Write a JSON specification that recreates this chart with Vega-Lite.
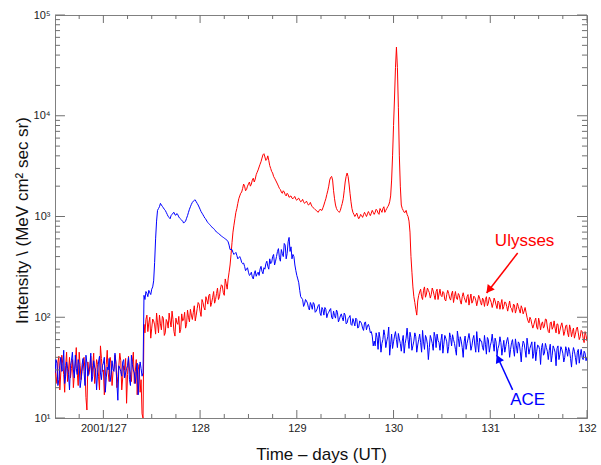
{
"$schema": "https://vega.github.io/schema/vega-lite/v6.json",
"width": 532, "height": 403,
"autosize": {"type": "none"},
"padding": {"left": 55, "top": 15, "right": 14, "bottom": 47},
"background": "white",
"config": {"font": "Liberation Sans", "view": {"stroke": "#808080", "strokeWidth": 1},
 "axis": {"grid": false, "domainColor": "#808080", "ticks": false, "labelColor": "#222222", "labelFontSize": 11, "titleFontSize": 17, "titleFontWeight": "normal", "titleColor": "#111111"}},
"datasets": {
"xmaj": [{"tv":127},{"tv":128},{"tv":129},{"tv":130},{"tv":131},{"tv":132}],
"xmin": [{"tv":126.75},{"tv":127.25},{"tv":127.5},{"tv":127.75},{"tv":128.25},{"tv":128.5},{"tv":128.75},{"tv":129.25},{"tv":129.5},{"tv":129.75},{"tv":130.25},{"tv":130.5},{"tv":130.75},{"tv":131.25},{"tv":131.5},{"tv":131.75}],
"ymaj": [{"tv":10},{"tv":100},{"tv":1000},{"tv":10000},{"tv":100000}],
"ymin": [{"tv":20},{"tv":30},{"tv":40},{"tv":50},{"tv":60},{"tv":70},{"tv":80},{"tv":90},{"tv":200},{"tv":300},{"tv":400},{"tv":500},{"tv":600},{"tv":700},{"tv":800},{"tv":900},{"tv":2000},{"tv":3000},{"tv":4000},{"tv":5000},{"tv":6000},{"tv":7000},{"tv":8000},{"tv":9000},{"tv":20000},{"tv":30000},{"tv":40000},{"tv":50000},{"tv":60000},{"tv":70000},{"tv":80000},{"tv":90000}],
"flux": [
{"t":126.50,"u":32,"a":28},{"t":126.52,"u":22,"a":35},{"t":126.54,"u":41,"a":24},{"t":126.56,"u":28,"a":40},{"t":126.58,"u":35,"a":30},
{"t":126.60,"u":18,"a":22},{"t":126.62,"u":45,"a":36},{"t":126.64,"u":30,"a":27},{"t":126.66,"u":25,"a":33},{"t":126.68,"u":38,"a":45},
{"t":126.70,"u":27,"a":25},{"t":126.72,"u":50,"a":31},{"t":126.74,"u":21,"a":38},{"t":126.76,"u":33,"a":20},{"t":126.78,"u":29,"a":34},
{"t":126.80,"u":40,"a":29},{"t":126.82,"u":16,"a":42},{"t":126.84,"u":36,"a":26},{"t":126.86,"u":31,"a":32},{"t":126.88,"u":24,"a":23},
{"t":126.90,"u":44,"a":37},{"t":126.92,"u":28,"a":30},{"t":126.94,"u":34,"a":28},{"t":126.96,"u":19,"a":41},{"t":126.98,"u":39,"a":24},
{"t":127.00,"u":30,"a":35},{"t":127.02,"u":26,"a":18},{"t":127.04,"u":47,"a":32},{"t":127.06,"u":23,"a":39},{"t":127.08,"u":35,"a":27},
{"t":127.10,"u":29,"a":30},{"t":127.12,"u":42,"a":44},{"t":127.14,"u":20,"a":22},{"t":127.16,"u":33,"a":33},{"t":127.18,"u":37,"a":29},
{"t":127.20,"u":25,"a":36},{"t":127.22,"u":30,"a":25},{"t":127.24,"u":14,"a":31},{"t":127.26,"u":41,"a":40},{"t":127.28,"u":27,"a":21},
{"t":127.30,"u":36,"a":34},{"t":127.32,"u":22,"a":28},{"t":127.34,"u":38,"a":30},{"t":127.36,"u":30,"a":17},{"t":127.38,"u":18,"a":36},
{"t":127.40,"u":11,"a":26},{"t":127.42,"u":85,"a":165},{"t":127.44,"u":95,"a":180},{"t":127.46,"u":72,"a":160},{"t":127.48,"u":100,"a":175},
{"t":127.50,"u":78,"a":190},{"t":127.52,"u":92,"a":230},{"t":127.54,"u":68,"a":600},{"t":127.56,"u":88,"a":1150},{"t":127.58,"u":105,"a":1250},
{"t":127.60,"u":75,"a":1300},{"t":127.62,"u":98,"a":1220},{"t":127.64,"u":70,"a":1150},{"t":127.66,"u":90,"a":1050},{"t":127.68,"u":110,"a":980},
{"t":127.70,"u":80,"a":1020},{"t":127.72,"u":95,"a":1080},{"t":127.74,"u":65,"a":1040},{"t":127.76,"u":88,"a":1070},{"t":127.78,"u":102,"a":990},
{"t":127.80,"u":76,"a":940},{"t":127.82,"u":92,"a":900},{"t":127.84,"u":112,"a":880},{"t":127.86,"u":85,"a":960},{"t":127.88,"u":100,"a":1100},
{"t":127.90,"u":120,"a":1250},{"t":127.92,"u":95,"a":1380},{"t":127.94,"u":130,"a":1450},{"t":127.96,"u":105,"a":1400},{"t":127.98,"u":140,"a":1300},
{"t":128.00,"u":115,"a":1180},{"t":128.02,"u":150,"a":1080},{"t":128.04,"u":125,"a":1000},{"t":128.06,"u":160,"a":940},{"t":128.08,"u":135,"a":870},
{"t":128.10,"u":170,"a":830},{"t":128.12,"u":140,"a":790},{"t":128.14,"u":180,"a":760},{"t":128.16,"u":150,"a":720},{"t":128.18,"u":195,"a":690},
{"t":128.20,"u":160,"a":670},{"t":128.22,"u":210,"a":640},{"t":128.24,"u":175,"a":620},{"t":128.26,"u":240,"a":600},{"t":128.28,"u":190,"a":580},
{"t":128.30,"u":280,"a":520},{"t":128.32,"u":420,"a":470},{"t":128.34,"u":700,"a":440},{"t":128.36,"u":950,"a":430},{"t":128.38,"u":1200,"a":410},
{"t":128.40,"u":1500,"a":390},{"t":128.42,"u":1700,"a":380},{"t":128.44,"u":1900,"a":340},{"t":128.46,"u":2000,"a":320},{"t":128.48,"u":1850,"a":300},
{"t":128.50,"u":2100,"a":280},{"t":128.52,"u":2000,"a":265},{"t":128.54,"u":2300,"a":250},{"t":128.56,"u":2200,"a":270},{"t":128.58,"u":2600,"a":255},
{"t":128.60,"u":2900,"a":280},{"t":128.62,"u":3300,"a":300},{"t":128.64,"u":3800,"a":285},{"t":128.66,"u":4200,"a":310},{"t":128.68,"u":3600,"a":340},
{"t":128.70,"u":4000,"a":320},{"t":128.72,"u":3200,"a":380},{"t":128.74,"u":2800,"a":350},{"t":128.76,"u":2500,"a":420},{"t":128.78,"u":2300,"a":360},
{"t":128.80,"u":2100,"a":450},{"t":128.82,"u":1900,"a":390},{"t":128.84,"u":1750,"a":470},{"t":128.86,"u":1800,"a":400},{"t":128.88,"u":1650,"a":520},
{"t":128.90,"u":1700,"a":430},{"t":128.92,"u":1550,"a":620},{"t":128.94,"u":1600,"a":500},{"t":128.96,"u":1500,"a":420},{"t":128.98,"u":1580,"a":330},
{"t":129.00,"u":1450,"a":260},{"t":129.02,"u":1520,"a":220},{"t":129.04,"u":1400,"a":160},{"t":129.06,"u":1480,"a":150},{"t":129.08,"u":1350,"a":135},
{"t":129.10,"u":1420,"a":145},{"t":129.12,"u":1300,"a":125},{"t":129.14,"u":1380,"a":140},{"t":129.16,"u":1250,"a":120},{"t":129.18,"u":1200,"a":135},
{"t":129.20,"u":1150,"a":115},{"t":129.22,"u":1100,"a":130},{"t":129.24,"u":1180,"a":110},{"t":129.26,"u":1150,"a":125},{"t":129.28,"u":1300,"a":105},
{"t":129.30,"u":1500,"a":120},{"t":129.32,"u":1800,"a":108},{"t":129.34,"u":2300,"a":118},{"t":129.36,"u":2500,"a":100},{"t":129.38,"u":1800,"a":115},
{"t":129.40,"u":1300,"a":98},{"t":129.42,"u":1150,"a":112},{"t":129.44,"u":1100,"a":95},{"t":129.46,"u":1250,"a":108},{"t":129.48,"u":1500,"a":92},
{"t":129.50,"u":2200,"a":105},{"t":129.52,"u":2700,"a":88},{"t":129.54,"u":2100,"a":100},{"t":129.56,"u":1400,"a":85},{"t":129.58,"u":1100,"a":97},
{"t":129.60,"u":1000,"a":82},{"t":129.62,"u":1080,"a":95},{"t":129.64,"u":950,"a":80},{"t":129.66,"u":1050,"a":90},{"t":129.68,"u":980,"a":78},
{"t":129.70,"u":1100,"a":88},{"t":129.72,"u":1000,"a":75},{"t":129.74,"u":1120,"a":85},{"t":129.76,"u":1020,"a":70},{"t":129.78,"u":1150,"a":65},
{"t":129.80,"u":1050,"a":58},{"t":129.82,"u":1180,"a":70},{"t":129.84,"u":1080,"a":48},{"t":129.86,"u":1200,"a":62},{"t":129.88,"u":1100,"a":55},
{"t":129.90,"u":1250,"a":75},{"t":129.92,"u":1150,"a":50},{"t":129.94,"u":1250,"a":64},{"t":129.96,"u":1400,"a":42},{"t":129.98,"u":2300,"a":68},
{"t":130.00,"u":8000,"a":57},{"t":130.02,"u":30000,"a":72},{"t":130.03,"u":48000,"a":60},{"t":130.04,"u":30000,"a":50},{"t":130.06,"u":4000,"a":61},
{"t":130.08,"u":1300,"a":46},{"t":130.10,"u":1150,"a":66},{"t":130.12,"u":1100,"a":55},{"t":130.14,"u":1050,"a":78},{"t":130.16,"u":900,"a":49},
{"t":130.18,"u":400,"a":63},{"t":130.20,"u":200,"a":52},{"t":130.22,"u":140,"a":70},{"t":130.24,"u":105,"a":45},{"t":130.26,"u":165,"a":60},
{"t":130.28,"u":190,"a":56},{"t":130.30,"u":150,"a":74},{"t":130.32,"u":200,"a":48},{"t":130.34,"u":170,"a":62},{"t":130.36,"u":185,"a":38},
{"t":130.38,"u":155,"a":66},{"t":130.40,"u":195,"a":55},{"t":130.42,"u":165,"a":71},{"t":130.44,"u":180,"a":50},{"t":130.46,"u":150,"a":59},
{"t":130.48,"u":190,"a":47},{"t":130.50,"u":160,"a":68},{"t":130.52,"u":175,"a":54},{"t":130.54,"u":145,"a":62},{"t":130.56,"u":185,"a":44},
{"t":130.58,"u":155,"a":70},{"t":130.60,"u":170,"a":52},{"t":130.62,"u":140,"a":60},{"t":130.64,"u":180,"a":48},{"t":130.66,"u":150,"a":73},
{"t":130.68,"u":165,"a":51},{"t":130.70,"u":135,"a":58},{"t":130.72,"u":175,"a":40},{"t":130.74,"u":148,"a":65},{"t":130.76,"u":160,"a":55},
{"t":130.78,"u":132,"a":69},{"t":130.80,"u":170,"a":47},{"t":130.82,"u":145,"a":61},{"t":130.84,"u":158,"a":53},{"t":130.86,"u":130,"a":72},
{"t":130.88,"u":165,"a":45},{"t":130.90,"u":140,"a":58},{"t":130.92,"u":155,"a":50},{"t":130.94,"u":128,"a":66},{"t":130.96,"u":160,"a":43},
{"t":130.98,"u":138,"a":60},{"t":131.00,"u":150,"a":52},{"t":131.02,"u":125,"a":68},{"t":131.04,"u":155,"a":46},{"t":131.06,"u":132,"a":57},
{"t":131.08,"u":145,"a":49},{"t":131.10,"u":120,"a":64},{"t":131.12,"u":150,"a":42},{"t":131.14,"u":128,"a":59},{"t":131.16,"u":140,"a":51},
{"t":131.18,"u":115,"a":63},{"t":131.20,"u":145,"a":40},{"t":131.22,"u":122,"a":56},{"t":131.24,"u":135,"a":48},{"t":131.26,"u":110,"a":61},
{"t":131.28,"u":138,"a":44},{"t":131.30,"u":118,"a":55},{"t":131.32,"u":130,"a":36},{"t":131.34,"u":108,"a":58},{"t":131.36,"u":125,"a":47},
{"t":131.38,"u":100,"a":62},{"t":131.40,"u":88,"a":43},{"t":131.42,"u":95,"a":53},{"t":131.44,"u":78,"a":39},{"t":131.46,"u":92,"a":57},
{"t":131.48,"u":80,"a":46},{"t":131.50,"u":98,"a":52},{"t":131.52,"u":75,"a":34},{"t":131.54,"u":90,"a":55},{"t":131.56,"u":82,"a":44},
{"t":131.58,"u":95,"a":50},{"t":131.60,"u":72,"a":38},{"t":131.62,"u":88,"a":54},{"t":131.64,"u":76,"a":42},{"t":131.66,"u":92,"a":49},
{"t":131.68,"u":70,"a":33},{"t":131.70,"u":85,"a":52},{"t":131.72,"u":74,"a":43},{"t":131.74,"u":88,"a":48},{"t":131.76,"u":66,"a":36},
{"t":131.78,"u":82,"a":51},{"t":131.80,"u":70,"a":41},{"t":131.82,"u":84,"a":46},{"t":131.84,"u":64,"a":32},{"t":131.86,"u":78,"a":50},
{"t":131.88,"u":68,"a":40},{"t":131.90,"u":80,"a":45},{"t":131.92,"u":60,"a":35},{"t":131.94,"u":74,"a":48},{"t":131.96,"u":62,"a":38},
{"t":131.98,"u":72,"a":44},{"t":132.00,"u":58,"a":40},
{"t":126.51,"u":26,"a":38},{"t":126.53,"u":36,"a":21},{"t":126.55,"u":19,"a":33},{"t":126.57,"u":42,"a":29},{"t":126.59,"u":27,"a":47},
{"t":126.61,"u":33,"a":26},{"t":126.63,"u":23,"a":31},{"t":126.65,"u":40,"a":19},{"t":126.67,"u":31,"a":37},{"t":126.69,"u":20,"a":30},
{"t":126.71,"u":35,"a":42},{"t":126.73,"u":28,"a":27},{"t":126.75,"u":45,"a":34},{"t":126.77,"u":24,"a":24},{"t":126.79,"u":37,"a":39},
{"t":126.81,"u":30,"a":21},{"t":126.83,"u":12,"a":35},{"t":126.85,"u":27,"a":30},{"t":126.87,"u":41,"a":44},{"t":126.89,"u":33,"a":26},
{"t":126.91,"u":22,"a":32},{"t":126.93,"u":38,"a":19},{"t":126.95,"u":26,"a":36},{"t":126.97,"u":52,"a":28},{"t":126.99,"u":29,"a":33},
{"t":127.01,"u":17,"a":40},{"t":127.03,"u":34,"a":25},{"t":127.05,"u":28,"a":30},{"t":127.07,"u":40,"a":23},{"t":127.09,"u":21,"a":37},
{"t":127.11,"u":31,"a":29},{"t":127.13,"u":36,"a":34},{"t":127.15,"u":26,"a":15},{"t":127.17,"u":44,"a":31},{"t":127.19,"u":19,"a":26},
{"t":127.21,"u":33,"a":38},{"t":127.23,"u":39,"a":28},{"t":127.25,"u":27,"a":33},{"t":127.27,"u":30,"a":24},{"t":127.29,"u":23,"a":42},
{"t":127.31,"u":45,"a":30},{"t":127.33,"u":29,"a":22},{"t":127.35,"u":17,"a":35},{"t":127.37,"u":34,"a":27},{"t":127.39,"u":24,"a":31},
{"t":127.41,"u":10,"a":28},{"t":127.43,"u":70,"a":150},{"t":127.45,"u":105,"a":172},{"t":127.47,"u":88,"a":185},{"t":127.49,"u":62,"a":168},
{"t":127.51,"u":96,"a":200},{"t":127.53,"u":84,"a":350},{"t":127.55,"u":110,"a":900},{"t":127.57,"u":70,"a":1200},{"t":127.59,"u":86,"a":1350},
{"t":127.61,"u":102,"a":1260},{"t":127.63,"u":66,"a":1180},{"t":127.65,"u":95,"a":1100},{"t":127.67,"u":78,"a":1000},{"t":127.69,"u":92,"a":950},
{"t":127.71,"u":115,"a":1050},{"t":127.73,"u":72,"a":1100},{"t":127.75,"u":98,"a":1030},{"t":127.77,"u":85,"a":1040},{"t":127.79,"u":70,"a":960},
{"t":127.81,"u":108,"a":920},{"t":127.83,"u":94,"a":860},{"t":127.85,"u":78,"a":900},{"t":127.87,"u":118,"a":1020},{"t":127.89,"u":90,"a":1180},
{"t":127.91,"u":105,"a":1320},{"t":127.93,"u":112,"a":1420},{"t":127.95,"u":92,"a":1460},{"t":127.97,"u":122,"a":1350},{"t":127.99,"u":135,"a":1240},
{"t":128.01,"u":102,"a":1120},{"t":128.03,"u":140,"a":1040},{"t":128.05,"u":118,"a":960},{"t":128.07,"u":148,"a":900},{"t":128.09,"u":165,"a":850},
{"t":128.11,"u":128,"a":810},{"t":128.13,"u":158,"a":770},{"t":128.15,"u":138,"a":740},{"t":128.17,"u":172,"a":700},{"t":128.19,"u":150,"a":680},
{"t":128.21,"u":190,"a":650},{"t":128.23,"u":205,"a":630},{"t":128.25,"u":165,"a":610},{"t":128.27,"u":215,"a":590},{"t":128.29,"u":240,"a":560},
{"t":128.31,"u":330,"a":470},{"t":128.33,"u":550,"a":470},{"t":128.35,"u":820,"a":420},{"t":128.37,"u":1100,"a":440},{"t":128.39,"u":1350,"a":380},
{"t":128.41,"u":1600,"a":400},{"t":128.43,"u":1750,"a":350},{"t":128.45,"u":2100,"a":345},{"t":128.47,"u":1800,"a":290},{"t":128.49,"u":2000,"a":310},
{"t":128.51,"u":2200,"a":260},{"t":128.53,"u":2100,"a":280},{"t":128.55,"u":2400,"a":240},{"t":128.57,"u":2350,"a":290},{"t":128.59,"u":2750,"a":270},
{"t":128.61,"u":3100,"a":260},{"t":128.63,"u":3500,"a":320},{"t":128.65,"u":4100,"a":270},{"t":128.67,"u":3900,"a":300},{"t":128.69,"u":3700,"a":360},
{"t":128.71,"u":3600,"a":300},{"t":128.73,"u":3000,"a":340},{"t":128.75,"u":2700,"a":400},{"t":128.77,"u":2400,"a":330},{"t":128.79,"u":2200,"a":400},
{"t":128.81,"u":2000,"a":480},{"t":128.83,"u":1850,"a":360},{"t":128.85,"u":1700,"a":430},{"t":128.87,"u":1750,"a":540},{"t":128.89,"u":1600,"a":380},
{"t":128.91,"u":1650,"a":560},{"t":128.93,"u":1580,"a":450},{"t":128.95,"u":1520,"a":380},{"t":128.97,"u":1550,"a":400},{"t":128.99,"u":1480,"a":290},
{"t":129.01,"u":1500,"a":240},{"t":129.03,"u":1450,"a":185},{"t":129.05,"u":1420,"a":155},{"t":129.07,"u":1400,"a":128},{"t":129.09,"u":1380,"a":150},
{"t":129.11,"u":1350,"a":138},{"t":129.13,"u":1320,"a":118},{"t":129.15,"u":1300,"a":132},{"t":129.17,"u":1220,"a":140},{"t":129.19,"u":1170,"a":112},
{"t":129.21,"u":1130,"a":121},{"t":129.23,"u":1140,"a":134},{"t":129.25,"u":1160,"a":104},{"t":129.27,"u":1220,"a":119},{"t":129.29,"u":1400,"a":125},
{"t":129.31,"u":1650,"a":99},{"t":129.33,"u":2000,"a":112},{"t":129.35,"u":2450,"a":122},{"t":129.37,"u":2300,"a":96},{"t":129.39,"u":1500,"a":104},
{"t":129.41,"u":1200,"a":118},{"t":129.43,"u":1120,"a":90},{"t":129.45,"u":1150,"a":103},{"t":129.47,"u":1350,"a":99},{"t":129.49,"u":1800,"a":110},
{"t":129.51,"u":2500,"a":86},{"t":129.53,"u":2500,"a":97},{"t":129.55,"u":1700,"a":104},{"t":129.57,"u":1200,"a":83},{"t":129.59,"u":1050,"a":90},
{"t":129.61,"u":1040,"a":98},{"t":129.63,"u":1000,"a":78},{"t":129.65,"u":990,"a":92},{"t":129.67,"u":1020,"a":86},{"t":129.69,"u":1040,"a":74},
{"t":129.71,"u":1050,"a":90},{"t":129.73,"u":1060,"a":82},{"t":129.75,"u":1070,"a":79},{"t":129.77,"u":1080,"a":72},{"t":129.79,"u":1100,"a":52},
{"t":129.81,"u":1100,"a":52},{"t":129.83,"u":1150,"a":63},{"t":129.85,"u":1050,"a":71},{"t":129.87,"u":1150,"a":45},{"t":129.89,"u":1200,"a":60},
{"t":129.91,"u":1100,"a":66},{"t":129.93,"u":1200,"a":58},{"t":129.95,"u":1300,"a":80},{"t":129.97,"u":1600,"a":54},{"t":129.99,"u":4000,"a":49},
{"t":130.01,"u":15000,"a":65},{"t":130.05,"u":12000,"a":69},{"t":130.07,"u":2000,"a":55},{"t":130.09,"u":1200,"a":58},{"t":130.11,"u":1100,"a":44},
{"t":130.13,"u":1150,"a":62},{"t":130.15,"u":1000,"a":60},{"t":130.17,"u":700,"a":71},{"t":130.19,"u":280,"a":47},{"t":130.21,"u":160,"a":58},
{"t":130.23,"u":120,"a":64},{"t":130.25,"u":145,"a":53},{"t":130.27,"u":178,"a":68},{"t":130.29,"u":160,"a":45},{"t":130.31,"u":185,"a":57},
{"t":130.33,"u":158,"a":66},{"t":130.35,"u":195,"a":54},{"t":130.37,"u":175,"a":50},{"t":130.39,"u":168,"a":61},{"t":130.41,"u":182,"a":47},
{"t":130.43,"u":150,"a":64},{"t":130.45,"u":190,"a":68},{"t":130.47,"u":170,"a":56},{"t":130.49,"u":165,"a":59},{"t":130.51,"u":180,"a":44},
{"t":130.53,"u":150,"a":66},{"t":130.55,"u":168,"a":57},{"t":130.57,"u":172,"a":51},{"t":130.59,"u":148,"a":63},{"t":130.61,"u":182,"a":67},
{"t":130.63,"u":160,"a":55},{"t":130.65,"u":155,"a":42},{"t":130.67,"u":172,"a":62},{"t":130.69,"u":145,"a":64},{"t":130.71,"u":160,"a":50},
{"t":130.73,"u":158,"a":57},{"t":130.75,"u":140,"a":48},{"t":130.77,"u":168,"a":61},{"t":130.79,"u":152,"a":59},{"t":130.81,"u":138,"a":52},
{"t":130.83,"u":162,"a":66},{"t":130.85,"u":148,"a":45},{"t":130.87,"u":145,"a":56},{"t":130.89,"u":155,"a":62},{"t":130.91,"u":132,"a":58},
{"t":130.93,"u":148,"a":47},{"t":130.95,"u":150,"a":54},{"t":130.97,"u":130,"a":63},{"t":130.99,"u":158,"a":45},{"t":131.01,"u":140,"a":57},
{"t":131.03,"u":138,"a":55},{"t":131.05,"u":145,"a":62},{"t":131.07,"u":122,"a":42},{"t":131.09,"u":140,"a":53},{"t":131.11,"u":135,"a":56},
{"t":131.13,"u":120,"a":50},{"t":131.15,"u":142,"a":45},{"t":131.17,"u":128,"a":58},{"t":131.19,"u":130,"a":54},{"t":131.21,"u":125,"a":48},
{"t":131.23,"u":112,"a":60},{"t":131.25,"u":132,"a":41},{"t":131.27,"u":120,"a":52},{"t":131.29,"u":128,"a":57},{"t":131.31,"u":110,"a":46},
{"t":131.33,"u":122,"a":50},{"t":131.35,"u":115,"a":55},{"t":131.37,"u":112,"a":40},{"t":131.39,"u":92,"a":52},{"t":131.41,"u":100,"a":49},
{"t":131.43,"u":85,"a":57},{"t":131.45,"u":84,"a":44},{"t":131.47,"u":98,"a":37},{"t":131.49,"u":76,"a":53},{"t":131.51,"u":88,"a":48},
{"t":131.53,"u":86,"a":50},{"t":131.55,"u":78,"a":42},{"t":131.57,"u":96,"a":55},{"t":131.59,"u":80,"a":46},{"t":131.61,"u":70,"a":47},
{"t":131.63,"u":90,"a":36},{"t":131.65,"u":80,"a":52},{"t":131.67,"u":78,"a":45},{"t":131.69,"u":86,"a":49},{"t":131.71,"u":68,"a":38},
{"t":131.73,"u":82,"a":51},{"t":131.75,"u":78,"a":44},{"t":131.77,"u":72,"a":40},{"t":131.79,"u":84,"a":47},{"t":131.81,"u":64,"a":50},
{"t":131.83,"u":76,"a":39},{"t":131.85,"u":72,"a":43},{"t":131.87,"u":62,"a":46},{"t":131.89,"u":76,"a":34},{"t":131.91,"u":70,"a":48},
{"t":131.93,"u":64,"a":42},{"t":131.95,"u":72,"a":40},{"t":131.97,"u":56,"a":46},{"t":131.99,"u":66,"a":37}
]},
"layer": [
{"data": {"name": "flux"},
 "mark": {"type": "line", "color": "#ff0000", "strokeWidth": 1, "clip": true},
 "encoding": {
  "x": {"field": "t", "type": "quantitative", "scale": {"domain": [126.5, 132], "nice": false, "zero": false},
   "axis": {"orient": "bottom", "title": "Time – days (UT)", "titleY": 41, "titleBaseline": "alphabetic",
    "values": [127,128,129,130,131,132],
    "labelExpr": "datum.value == 127 ? '2001/127' : format(datum.value, 'd')",
    "labelPadding": 4, "labelFlush": false, "labelOverlap": false}},
  "y": {"field": "u", "type": "quantitative", "scale": {"type": "log", "domain": [10, 100000], "nice": false},
   "axis": {"orient": "left", "title": "Intensity \\ (MeV cm²  sec  sr)", "titleX": -28, "titleY": 205, "titleBaseline": "alphabetic", "titleAngle": -90,
    "values": [10,100,1000,10000,100000],
    "labelExpr": "datum.value == 10 ? '10¹' : datum.value == 100 ? '10²' : datum.value == 1000 ? '10³' : datum.value == 10000 ? '10⁴' : '10⁵'",
    "labelPadding": 5, "labelFlush": false, "labelOverlap": false}},
  "order": {"field": "t", "type": "quantitative"}}},
{"data": {"name": "flux"},
 "mark": {"type": "line", "color": "#0000ff", "strokeWidth": 1, "clip": true},
 "encoding": {
  "x": {"field": "t", "type": "quantitative"},
  "y": {"field": "a", "type": "quantitative"},
  "order": {"field": "t", "type": "quantitative"}}},
{"data": {"name": "xmaj"},
 "mark": {"type": "rule", "color": "#707070", "strokeWidth": 1},
 "encoding": {"x": {"field": "tv", "type": "quantitative"}, "y": {"datum": 10, "type": "quantitative"}, "y2": {"datum": 12}}},
{"data": {"name": "xmaj"},
 "mark": {"type": "rule", "color": "#707070", "strokeWidth": 1},
 "encoding": {"x": {"field": "tv", "type": "quantitative"}, "y": {"datum": 100000, "type": "quantitative"}, "y2": {"datum": 83300}}},
{"data": {"name": "xmin"},
 "mark": {"type": "rule", "color": "#707070", "strokeWidth": 1},
 "encoding": {"x": {"field": "tv", "type": "quantitative"}, "y": {"datum": 10, "type": "quantitative"}, "y2": {"datum": 10.96}}},
{"data": {"name": "xmin"},
 "mark": {"type": "rule", "color": "#707070", "strokeWidth": 1},
 "encoding": {"x": {"field": "tv", "type": "quantitative"}, "y": {"datum": 100000, "type": "quantitative"}, "y2": {"datum": 91240}}},
{"data": {"name": "ymaj"},
 "mark": {"type": "rule", "color": "#707070", "strokeWidth": 1},
 "encoding": {"y": {"field": "tv", "type": "quantitative"}, "x": {"datum": 126.5, "type": "quantitative"}, "x2": {"datum": 126.603}}},
{"data": {"name": "ymaj"},
 "mark": {"type": "rule", "color": "#707070", "strokeWidth": 1},
 "encoding": {"y": {"field": "tv", "type": "quantitative"}, "x": {"datum": 132, "type": "quantitative"}, "x2": {"datum": 131.897}}},
{"data": {"name": "ymin"},
 "mark": {"type": "rule", "color": "#707070", "strokeWidth": 1},
 "encoding": {"y": {"field": "tv", "type": "quantitative"}, "x": {"datum": 126.5, "type": "quantitative"}, "x2": {"datum": 126.552}}},
{"data": {"name": "ymin"},
 "mark": {"type": "rule", "color": "#707070", "strokeWidth": 1},
 "encoding": {"y": {"field": "tv", "type": "quantitative"}, "x": {"datum": 132, "type": "quantitative"}, "x2": {"datum": 131.948}}},
{"data": {"values": [{"t": 131.283, "v": 434, "t2": 130.963, "v2": 174}]},
 "mark": {"type": "rule", "color": "#ff0000", "strokeWidth": 1.5},
 "encoding": {"x": {"field": "t", "type": "quantitative"}, "y": {"field": "v", "type": "quantitative"}, "x2": {"field": "t2"}, "y2": {"field": "v2"}}},
{"data": {"values": [{"t": 131.231, "v": 19.0, "t2": 131.066, "v2": 42.2}]},
 "mark": {"type": "rule", "color": "#0000ff", "strokeWidth": 1.5},
 "encoding": {"x": {"field": "t", "type": "quantitative"}, "y": {"field": "v", "type": "quantitative"}, "x2": {"field": "t2"}, "y2": {"field": "v2"}}},
{"data": {"values": [{"t": 130.985, "v": 187}]},
 "mark": {"type": "point", "shape": "triangle-up", "filled": true, "color": "#ff0000", "opacity": 1, "size": 80, "angle": 218},
 "encoding": {"x": {"field": "t", "type": "quantitative"}, "y": {"field": "v", "type": "quantitative"}}},
{"data": {"values": [{"t": 131.355, "v": 571, "label": "Ulysses"}]},
 "mark": {"type": "text", "color": "#ff0000", "fontSize": 17, "align": "center", "baseline": "middle"},
 "encoding": {"x": {"field": "t", "type": "quantitative"}, "y": {"field": "v", "type": "quantitative"}, "text": {"field": "label"}}},
{"data": {"values": [{"t": 131.083, "v": 38.9}]},
 "mark": {"type": "point", "shape": "triangle-up", "filled": true, "color": "#0000ff", "opacity": 1, "size": 80, "angle": 335},
 "encoding": {"x": {"field": "t", "type": "quantitative"}, "y": {"field": "v", "type": "quantitative"}}},
{"data": {"values": [{"t": 131.386, "v": 15.1, "label": "ACE"}]},
 "mark": {"type": "text", "color": "#0000ff", "fontSize": 17, "align": "center", "baseline": "middle"},
 "encoding": {"x": {"field": "t", "type": "quantitative"}, "y": {"field": "v", "type": "quantitative"}, "text": {"field": "label"}}}
]
}
